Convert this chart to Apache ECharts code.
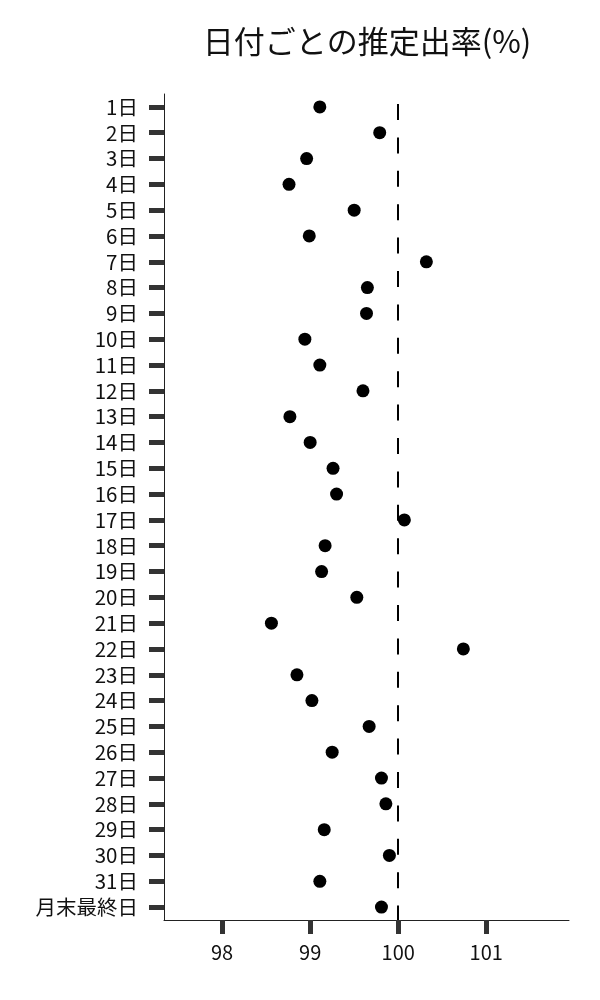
<!DOCTYPE html>
<html>
<head>
<meta charset="utf-8">
<script src="https://cdn.jsdelivr.net/npm/echarts@6/dist/echarts.min.js"></script>
<style>
  html, body { margin: 0; padding: 0; background: #fff; }
  #chart { width: 600px; height: 1000px; }
</style>
</head>
<body>
<div id="chart"></div>
<script>
// 日付ラベル（1日〜31日 + 月末最終日）
var days = ['1日','2日','3日','4日','5日','6日','7日','8日','9日','10日',
            '11日','12日','13日','14日','15日','16日','17日','18日','19日','20日',
            '21日','22日','23日','24日','25日','26日','27日','28日','29日','30日',
            '31日','月末最終日'];
// 推定出率(%)
var rates = [99.11, 99.79, 98.96, 98.76, 99.50, 98.99, 100.32, 99.65, 99.64, 98.94,
             99.11, 99.60, 98.77, 99.00, 99.26, 99.30, 100.07, 99.17, 99.13, 99.53,
             98.56, 100.74, 98.85, 99.02, 99.67, 99.25, 99.81, 99.86, 99.16, 99.90,
             99.11, 99.81];
var xTicks = [98, 99, 100, 101];
var refLine = 100;

var font = '"Noto Sans CJK JP", "Noto Sans", sans-serif';
var chart = echarts.init(document.getElementById('chart'));

var points = [];
for (var i = 0; i < days.length; i++) {
    points.push([rates[i], days[i]]);
}

var option = {
    backgroundColor: '#fff',
    animation: false,
    title: {
        text: '日付ごとの推定出率(%)',
        left: 367,
        top: 26,
        padding: 0,
        textAlign: 'center',
        textStyle: { fontFamily: font, fontSize: 31, fontWeight: 'normal', color: '#111' }
    },
    grid: { left: 164, right: 31, top: 94, bottom: 80 },
    xAxis: {
        type: 'value',
        min: 97.34,
        max: 101.94,
        axisLine: { show: true, lineStyle: { color: '#222', width: 1 } },
        axisTick: { show: true, length: 14, customValues: xTicks, lineStyle: { color: '#333', width: 5 } },
        axisLabel: { customValues: xTicks, margin: 22, fontFamily: font, fontSize: 20, color: '#111' },
        splitLine: { show: false }
    },
    yAxis: {
        type: 'category',
        data: days,
        inverse: true,
        axisLine: { show: true, lineStyle: { color: '#222', width: 1 } },
        axisTick: { show: true, interval: 0, alignWithLabel: true, length: 15, lineStyle: { color: '#333', width: 5 } },
        axisLabel: { interval: 0, margin: 26, fontFamily: font, fontSize: 20.5, color: '#111' },
        splitLine: { show: false }
    },
    series: [{
        type: 'scatter',
        data: points,
        symbolSize: 13,
        itemStyle: { color: '#000', opacity: 1 },
        markLine: {
            silent: true,
            symbol: ['none', 'none'],
            label: { show: false },
            lineStyle: { color: '#000', width: 2, type: [16, 17.4], dashOffset: 23.4 },
            data: [{ xAxis: refLine }]
        }
    }]
};
chart.setOption(option);
</script>
</body>
</html>
